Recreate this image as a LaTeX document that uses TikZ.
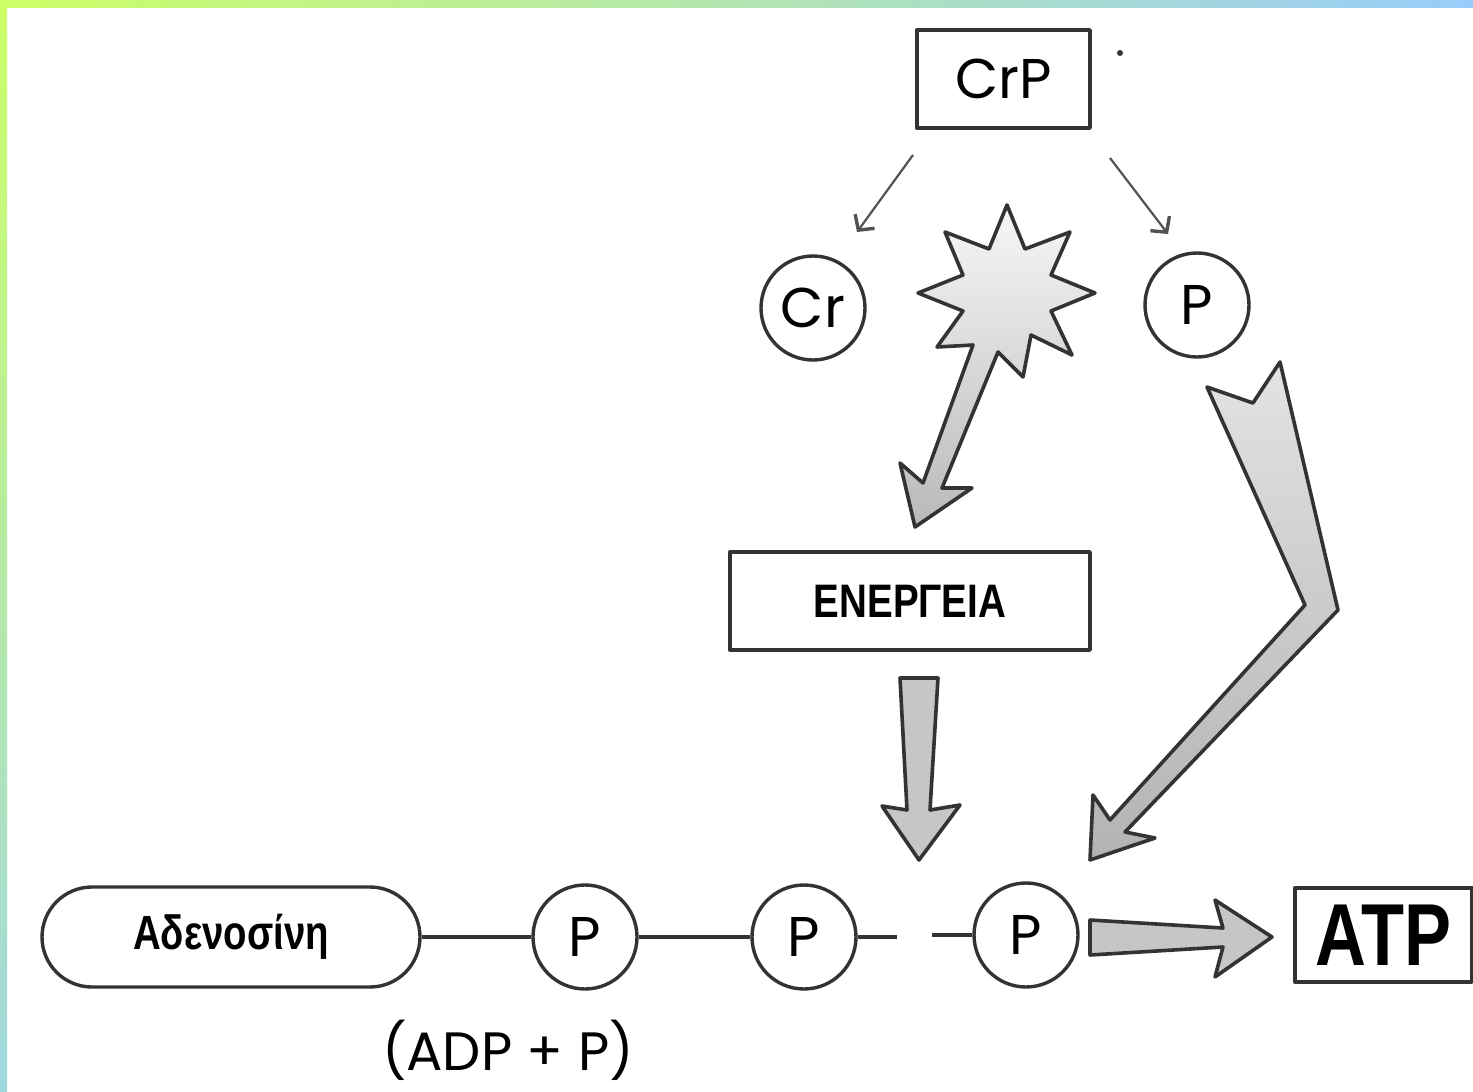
\documentclass[tikz,border=0pt]{standalone}
\usepackage{fontspec}
\setmainfont{Liberation Sans}
\newfontfamily\geo{Poppins}
\usetikzlibrary{arrows.meta}
\definecolor{ink}{HTML}{333333}
\definecolor{limeb}{HTML}{CCFF66}
\definecolor{skyb}{HTML}{99CCFA}
\definecolor{aquab}{HTML}{A0D8E0}
\begin{document}
\begin{tikzpicture}[x=1pt,y=-1pt,line join=round,
  box/.style={draw=ink,line width=3.4pt,inner sep=0pt},
  ball/.style={draw=ink,circle,line width=3.4pt,minimum size=104pt,inner sep=0pt,font=\geo\fontsize{56}{60}\selectfont},
  bold/.style={font=\bfseries\fontsize{#1}{#1}\selectfont},
  blob/.style={draw=ink,line width=3.6pt},
  link/.style={draw=ink,line width=3.4pt},
  thinarrow/.style={draw=ink!85,line width=2.2pt,-{Straight Barb[length=11pt,width=24pt,line width=3.4pt]}}]
\fill[white] (0,0) rectangle (1473,1092);
\useasboundingbox (0,0) rectangle (1473,1092);
% frame strips
\shade[left color=limeb,right color=skyb] (0,0) rectangle (1473,7);
\shade[top color=limeb,bottom color=aquab] (0,0) rectangle (7,1092);

% top
\node[box,minimum width=173pt,minimum height=98pt,font=\geo\fontsize{56}{60}\selectfont] (crp) at (1003.5,79) {CrP};
\fill[ink] (1120,53) circle (3pt);
\node[ball] (cr) at (813,308) {Cr};
\node[ball] (pt) at (1197,305) {P};
\coordinate (a1) at (913,155); \coordinate (a2) at (857,232);
\coordinate (b1) at (1110,158); \coordinate (b2) at (1168,234);
\draw[thinarrow] (a1) -- (a2);
\draw[thinarrow] (b1) -- (b2);

% star with arrow tail
\shade[blob,top color=gray!6,bottom color=gray!55]
  (1007,205) -- (1025,249) -- (1070,232) -- (1051,275) -- (1095,293) -- (1051,311)
  -- (1072,355) -- (1031,335) -- (1023,377) -- (998,352) -- (942,488) -- (972,488)
  -- (915,527) -- (900,463) -- (923,483) -- (973,345) -- (937,347) -- (963,311)
  -- (918,293) -- (963,275) -- (945,232) -- (989,249) -- cycle;

% energy
\node[box,minimum width=360pt,minimum height=98pt,bold=47] (en) at (910,601) {\scalebox{0.82}[1]{ΕΝΕΡΓΕΙΑ}};
\filldraw[blob,fill=gray!45]
  (900,678) -- (938,678) -- (930,810) -- (960,805) -- (919,860) -- (882,806) -- (907,810) -- cycle;

% bent arrow
\shade[blob,top color=gray!22,middle color=white,bottom color=gray!60]
  (1207,387) -- (1253,403) -- (1280,362) -- (1338,610) -- (1125,832) -- (1155,838)
  -- (1090,860) -- (1093,795) -- (1110,820) -- (1305,605) -- cycle;

% bottom row
\node[draw=ink,line width=3.4pt,rounded corners=50pt,minimum width=378pt,minimum height=100pt,bold=48] (aden) at (231,937) {\scalebox{0.8}[1]{Αδενοσίνη}};
\node[ball] (p1) at (585,937) {P};
\node[ball] (p2) at (804,937) {P};
\node[ball] (p3) at (1026,935) {P};
\draw[link] (aden.east) -- (p1.west);
\draw[link] (p1.east) -- (p2.west);
\draw[link] (p2.east) -- ++(39,0);
\draw[link] (p3.west) -- ++(-40,0);
\filldraw[blob,fill=gray!45]
  (1090,920) -- (1223,928) -- (1215,900) -- (1272,937) -- (1215,977) -- (1223,947) -- (1090,955) -- cycle;
\node[box,minimum width=177pt,minimum height=94pt,bold=88] (atp) at (1383.5,935) {\scalebox{0.8}[1]{ATP}};
\node[font=\geo\fontsize{54}{58}\selectfont,inner sep=0pt] (adp) at (508,1050) {(ADP + P)};
\end{tikzpicture}
\end{document}
